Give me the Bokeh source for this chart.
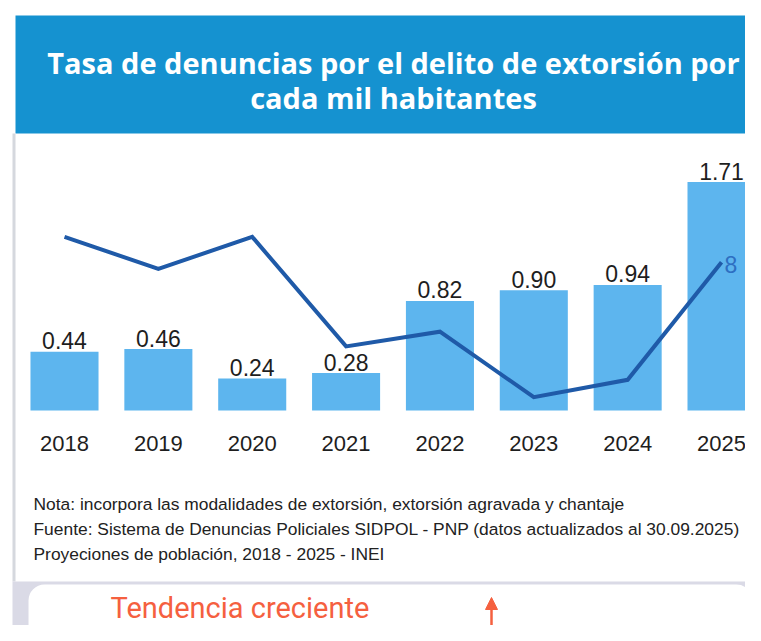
from bokeh.plotting import figure
from bokeh.models import Range1d, BoxAnnotation, Label, Arrow, NormalHead, ColumnDataSource
from bokeh.core.properties import value
from bokeh.embed import file_html
from bokeh.resources import INLINE

# ---- data ----
years = ["2018", "2019", "2020", "2021", "2022", "2023", "2024", "2025"]
rates = [0.44, 0.46, 0.24, 0.28, 0.82, 0.90, 0.94, 1.71]
rate_labels = ["0.44", "0.46", "0.24", "0.28", "0.82", "0.90", "0.94", "1.71"]
# unlabeled trend line (same scale as bars)
trend = [1.30, 1.06, 1.30, 0.48, 0.59, 0.10, 0.23, 1.11]
trend_end_label = "8"

title_lines = ["Tasa de denuncias por el delito de extorsión por", "cada mil habitantes"]
notes = [
    "Nota: incorpora las modalidades de extorsión, extorsión agravada y chantaje",
    "Fuente: Sistema de Denuncias Policiales SIDPOL - PNP (datos actualizados al 30.09.2025)",
    "Proyeciones de población, 2018  - 2025 - INEI",
]
badge_text = "Tendencia creciente"

# ---- styles ----
W, H = 745, 625
TITLE_BG = "#1592d0"
BAR = "#5db5ee"
LINE = "#1f5aa8"
TXT = "#1e1e1e"
ORANGE = "#f5603f"

def sx(rx):
    return rx

def sy(ry):
    return H - ry

SCR = dict(left_units="screen", right_units="screen", top_units="screen", bottom_units="screen")

idx = list(range(len(years)))
src = ColumnDataSource(dict(x=idx, year=years, rate=rates, label=rate_labels, trend=trend))

p = figure(width=W, height=H, title=None,
           x_range=Range1d(-0.6819, 7.2555), y_range=Range1d(-1.609, 3.069),
           x_axis_location=None, y_axis_location=None,
           output_backend="svg", toolbar_location=None, min_border=0,
           outline_line_color=None, background_fill_color="white", border_fill_color="white")
p.grid.visible = False
p.extra_y_ranges = {"trend": Range1d(-1.609, 3.069)}

# decorations
p.add_layout(BoxAnnotation(left=sx(15), right=W + 20, top=sy(15), bottom=sy(133), **SCR,
                           fill_color=TITLE_BG, fill_alpha=1, line_color=None, level="underlay"))
p.add_layout(BoxAnnotation(left=sx(12), right=sx(15), top=sy(133), bottom=sy(581), **SCR,
                           fill_color="#d5d8de", fill_alpha=1, line_color=None, level="underlay"))
p.add_layout(BoxAnnotation(left=sx(12), right=W + 20, top=sy(581), bottom=-30, **SCR,
                           fill_color="#dadae6", fill_alpha=1, line_color=None, level="underlay"))
p.add_layout(BoxAnnotation(left=sx(28), right=sx(752), top=sy(584), bottom=-40, **SCR,
                           fill_color="white", fill_alpha=1, line_color=None, border_radius=16,
                           level="underlay"))

# bars and line
p.vbar(x="x", top="rate", width=0.725, source=src, fill_color=BAR, line_color=None)
p.line(x="x", y="trend", source=src, y_range_name="trend", line_color=LINE, line_width=4, line_join="miter")

p.text(x="x", y="rate", text="label", source=src, text_font=value("Liberation Sans"),
       text_font_size="23px", text_align="center", text_baseline="alphabetic", y_offset=-11, text_color=TXT)
p.text(x="x", y=0, text="year", source=src, text_font=value("Liberation Sans"),
       text_font_size="22px", text_align="center", text_baseline="alphabetic", y_offset=33, text_color=TXT)
p.text(x=[idx[-1]], y=[trend[-1]], text=[trend_end_label], y_range_name="trend",
       text_font=value("Liberation Sans"), text_font_size="23px", text_align="left",
       text_baseline="middle", x_offset=3, y_offset=2, text_color="#2d6fc2")

# title
for i, t in enumerate(title_lines):
    p.add_layout(Label(x=sx(393), y=sy(62 + 35 * i), x_units="screen", y_units="screen", text=t,
                       text_align="center", text_baseline="middle", text_font="Open Sans",
                       text_font_style="bold", text_font_size="29px", text_color="white"))

# notes
for i, t in enumerate(notes):
    p.add_layout(Label(x=sx(33), y=sy(503 + 25 * i), x_units="screen", y_units="screen", text=t,
                       text_align="left", text_baseline="middle", text_font="Liberation Sans",
                       text_font_size="17.4px", text_color="#222222"))

# bottom badge
p.add_layout(Label(x=sx(110), y=sy(607), x_units="screen", y_units="screen", text=badge_text,
                   text_align="left", text_baseline="middle", text_font="Roboto",
                   text_font_size="29px", text_color=ORANGE))
p.add_layout(Arrow(x_start=sx(491), y_start=sy(634), x_end=sx(491), y_end=sy(597),
                   start_units="screen", end_units="screen", line_color=ORANGE, line_width=2.5,
                   end=NormalHead(size=12, fill_color=ORANGE, line_color=ORANGE)))

open("out.html", "w").write(file_html(p, INLINE))
